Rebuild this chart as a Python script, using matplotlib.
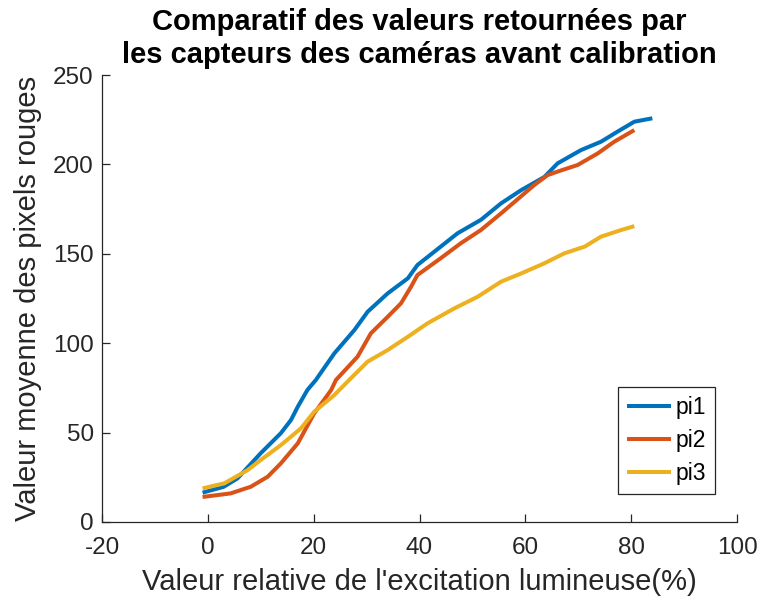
import matplotlib
matplotlib.use("Agg")
import matplotlib.pyplot as plt

plt.rcParams['font.family'] = ['Liberation Sans', 'DejaVu Sans']
plt.rcParams['axes.unicode_minus'] = False

# Mean red-pixel value per camera sensor vs. relative light excitation (%)
pi1_x = [-1, 3, 5.6, 10, 13.8, 15.7, 17, 18.8, 20.4, 23.9, 27.7, 30.2, 34, 37.8,
         39.6, 44, 47.2, 51.6, 55.4, 59.2, 63.6, 66.1, 70.5, 74.3, 77.4, 80.6, 84]
pi1_y = [16.4, 19.7, 24.4, 38.5, 49.7, 57, 64.5, 73.8, 79.4, 94.3, 107.4, 117.6,
         127.9, 136.3, 143.7, 154, 161.5, 169, 178.2, 185.6, 193, 200.6, 208,
         212.7, 218.3, 223.9, 225.8]

pi2_x = [-1, 4.3, 8.1, 11.3, 13.8, 17, 20.1, 23.3, 24.2, 28.3, 30.8, 34, 36.5,
         38.4, 39.6, 44, 47.8, 51.6, 55.4, 61.7, 64.2, 66.1, 69.9, 73.7, 76.8, 80.6]
pi2_y = [14, 16, 19.7, 25.3, 32.8, 44, 60.8, 73.8, 79.4, 92.5, 105.5, 114.8,
         122.3, 131.6, 138.1, 147.5, 155.9, 163.3, 172.6, 188.5, 194, 196,
         199.7, 206.2, 212.7, 219.2]

pi3_x = [-1, 3.1, 7.5, 10, 13.8, 17.6, 20.1, 23.9, 26.7, 30.2, 34, 37.8, 41.5,
         46.6, 51, 55.4, 59.2, 63.6, 67.4, 71.2, 74.3, 78.1, 80.6]
pi3_y = [18.8, 21.6, 29, 34.7, 43, 52.4, 61.7, 71, 79.4, 89.7, 96.2, 103.6,
         111.1, 119.5, 126, 134.4, 139, 144.7, 150.3, 154, 159.6, 163.3, 165.5]

series_names = ['pi1', 'pi2', 'pi3']
x_ticks = [-20, 0, 20, 40, 60, 80, 100]
y_ticks = [0, 50, 100, 150, 200, 250]

colors = ['#0072BD', '#D95319', '#EDB120']
axis_color = '#262626'

fig = plt.figure(figsize=(7.58, 6.05), dpi=100)
ax = fig.add_axes([0.1346, 0.1372, 0.8377, 0.7388])

for xs, ys, name, c in zip([pi1_x, pi2_x, pi3_x], [pi1_y, pi2_y, pi3_y],
                           series_names, colors):
    ax.plot(xs, ys, color=c, lw=2.9, label=name, solid_capstyle='butt')

ax.set_xlim(-20, 100)
ax.set_ylim(0, 250)
ax.set_xticks(x_ticks)
ax.set_yticks(y_ticks)

for side in ['top', 'right']:
    ax.spines[side].set_visible(False)
for side in ['left', 'bottom']:
    ax.spines[side].set_color(axis_color)
    ax.spines[side].set_linewidth(0.9)

ax.tick_params(direction='in', length=6, width=0.9, colors=axis_color,
               labelsize=17.5, labelcolor=axis_color)
ax.tick_params(axis='x', pad=11)
ax.tick_params(axis='y', pad=6)

ax.set_xlabel("Valeur relative de l'excitation lumineuse(%)", fontsize=21,
              color=axis_color, labelpad=6)
ax.set_ylabel("Valeur moyenne des pixels rouges", fontsize=21,
              color=axis_color, labelpad=8)
ax.set_title("Comparatif des valeurs retournées par\nles capteurs des caméras avant calibration",
             fontsize=21, fontweight='bold', color='black', pad=9,
             linespacing=1.2)

leg = ax.legend(loc='lower right', bbox_to_anchor=(0.965, 0.063), fontsize=16.5,
                frameon=True, fancybox=False, framealpha=1, edgecolor=axis_color,
                handlelength=1.9, handletextpad=0.2, borderpad=0.4,
                labelspacing=0.42, borderaxespad=0)
leg.get_frame().set_linewidth(0.9)

fig.savefig('out.png', dpi=100, facecolor='white')
